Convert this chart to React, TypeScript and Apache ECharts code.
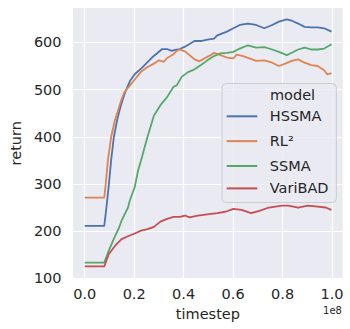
import React, { useEffect, useRef } from "react";
import * as echarts from "echarts";

const seriesNames = ["HSSMA", "RL²", "SSMA", "VariBAD"];
const seriesColors = ["#4C72B0", "#DD8452", "#55A868", "#C44E52"];
const xTickValues = [0, 0.2, 0.4, 0.6, 0.8, 1.0];
const yTickValues = [100, 200, 300, 400, 500, 600];

// x in units of 1e8 timesteps, y = return
const hssma = [
  [0, 211], [0.079, 211], [0.088, 251], [0.098, 300], [0.107, 351], [0.118, 400],
  [0.131, 435], [0.141, 456], [0.153, 478], [0.164, 495], [0.183, 518], [0.203, 533],
  [0.229, 545], [0.255, 559], [0.274, 569], [0.293, 577], [0.313, 586], [0.333, 586],
  [0.352, 582], [0.365, 584], [0.385, 586], [0.405, 591], [0.422, 596], [0.444, 603],
  [0.470, 603], [0.496, 606], [0.523, 608], [0.536, 615], [0.575, 623], [0.601, 630],
  [0.627, 637], [0.660, 640], [0.693, 637], [0.726, 630], [0.758, 637], [0.785, 644],
  [0.817, 649], [0.837, 646], [0.863, 640], [0.889, 633], [0.916, 632], [0.942, 632],
  [0.968, 630], [0.998, 623],
];
const rl2 = [
  [0, 271], [0.079, 271], [0.085, 300], [0.094, 351], [0.107, 400], [0.122, 435],
  [0.135, 456], [0.148, 478], [0.161, 495], [0.183, 509], [0.203, 522], [0.228, 538],
  [0.254, 548], [0.280, 555], [0.300, 562], [0.320, 559], [0.333, 567], [0.359, 575],
  [0.372, 582], [0.385, 585], [0.405, 581], [0.422, 574], [0.444, 564], [0.464, 560],
  [0.483, 566], [0.509, 573], [0.523, 578], [0.549, 573], [0.575, 568], [0.601, 566],
  [0.614, 574], [0.640, 571], [0.666, 566], [0.693, 561], [0.726, 562], [0.758, 557],
  [0.785, 550], [0.811, 555], [0.837, 561], [0.863, 564], [0.889, 557], [0.916, 552],
  [0.942, 550], [0.968, 541], [0.981, 532], [0.998, 535],
];
const ssma = [
  [0, 133], [0.079, 133], [0.097, 158], [0.123, 190], [0.137, 205], [0.149, 222],
  [0.175, 250], [0.183, 266], [0.202, 293], [0.216, 329], [0.228, 350], [0.254, 400],
  [0.280, 445], [0.306, 467], [0.333, 484], [0.359, 506], [0.372, 509], [0.392, 527],
  [0.418, 537], [0.444, 543], [0.470, 552], [0.496, 562], [0.523, 571], [0.549, 577],
  [0.575, 578], [0.601, 580], [0.627, 587], [0.660, 594], [0.693, 589], [0.726, 590],
  [0.758, 585], [0.785, 580], [0.817, 573], [0.837, 578], [0.863, 585], [0.889, 589],
  [0.916, 585], [0.942, 585], [0.968, 587], [0.998, 596],
];
const varibad = [
  [0, 125], [0.079, 125], [0.097, 151], [0.123, 169], [0.149, 183], [0.175, 189],
  [0.202, 195], [0.228, 201], [0.254, 204], [0.280, 209], [0.306, 220], [0.333, 226],
  [0.359, 230], [0.385, 230], [0.405, 233], [0.424, 229], [0.457, 233], [0.503, 236],
  [0.536, 238], [0.569, 241], [0.601, 247], [0.634, 245], [0.673, 238], [0.706, 243],
  [0.739, 249], [0.771, 252], [0.797, 254], [0.824, 254], [0.863, 250], [0.902, 254],
  [0.942, 252], [0.974, 250], [0.997, 245],
];
const seriesData = [hssma, rl2, ssma, varibad];

export default function App() {
  const ref = useRef<HTMLDivElement>(null);
  useEffect(() => {
    const chart = echarts.init(ref.current as HTMLDivElement, null, { renderer: "svg" });
    const font = "DejaVu Sans";
    const textColor = "#262626";
    const legendText = {
      fontSize: 14.5, lineHeight: 22.4, color: textColor, fontFamily: font,
      padding: [0, 0, 0, 7.5],
    };
    chart.setOption({
      animation: false,
      backgroundColor: "#ffffff",
      textStyle: { fontFamily: font },
      grid: {
        left: 65, right: 7.3, top: 8, bottom: 50.5,
        show: true, backgroundColor: "#EAEAF2", borderWidth: 0,
      },
      xAxis: {
        type: "value", min: -0.047, max: 1.043,
        axisLine: { show: false },
        axisTick: { show: false, customValues: xTickValues },
        axisLabel: {
          customValues: xTickValues,
          formatter: (v: number) => v.toFixed(1),
          fontSize: 14.5, color: textColor, margin: 8, fontFamily: font,
        },
        splitLine: { show: true, lineStyle: { color: "#ffffff", width: 1.2 } },
        name: "timestep", nameLocation: "middle", nameGap: 27,
        nameTextStyle: { fontSize: 14.5, color: textColor, fontFamily: font },
      },
      yAxis: {
        type: "value", min: 99.5, max: 673,
        axisLine: { show: false },
        axisTick: { show: false, customValues: yTickValues },
        axisLabel: {
          customValues: yTickValues,
          formatter: (v: number) => String(v),
          fontSize: 14.5, color: textColor, margin: 11.5, fontFamily: font,
        },
        splitLine: { show: true, lineStyle: { color: "#ffffff", width: 1.2 } },
        name: "return", nameLocation: "middle", nameGap: 42,
        nameTextStyle: { fontSize: 14.5, color: textColor, fontFamily: font },
      },
      legend: {
        data: seriesNames.map((name) =>
          name === "RL²"
            ? { name, textStyle: { ...legendText, padding: [2.45, 0, 2.45, 7.5] } }
            : { name }
        ),
        orient: "vertical", left: 226.7, top: 105.1,
        padding: 0, itemGap: 0, itemWidth: 30.6, itemHeight: 2, icon: "rect",
        selectedMode: false, z: 6,
        textStyle: legendText,
      },
      graphic: [
        {
          type: "rect", z: 5,
          shape: { x: 222, y: 83.5, width: 114.3, height: 119, r: 4 },
          style: { fill: "rgba(234,234,242,0.8)", stroke: "#cccccc", lineWidth: 1 },
        },
        {
          type: "text", z: 6, x: 270, y: 95.3,
          style: { text: "model", fontSize: 14.5, fontFamily: font, fill: textColor, align: "left", verticalAlign: "middle" },
        },
        {
          type: "text", z: 6, x: 342, y: 310,
          style: { text: "1e8", fontSize: 10, fontFamily: font, fill: textColor, align: "right", verticalAlign: "middle" },
        },
      ],
      series: seriesNames.map((name, i) => ({
        name, type: "line", data: seriesData[i],
        showSymbol: false, symbol: "none",
        lineStyle: { width: 1.8, color: seriesColors[i] },
        itemStyle: { color: seriesColors[i] },
        emphasis: { disabled: true },
        z: 2 + i * 0.01,
      })),
    });
    return () => chart.dispose();
  }, []);
  return <div ref={ref} style={{ position: "fixed", left: 0, top: 0, width: 350, height: 329 }} />;
}
